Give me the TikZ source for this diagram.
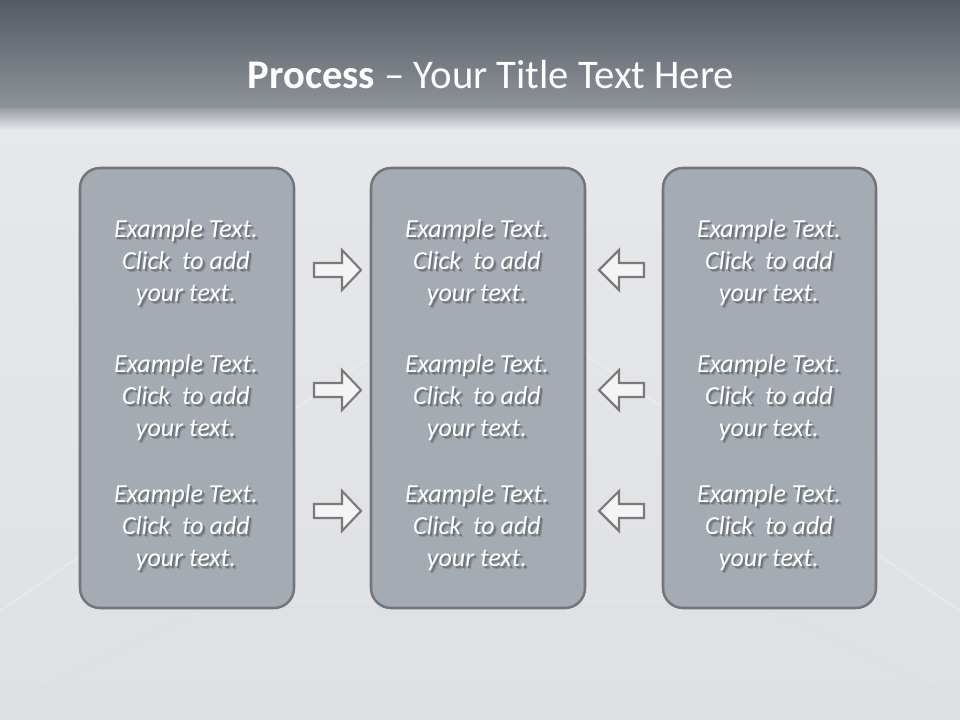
\documentclass[tikz,border=0pt]{standalone}
\usepackage{fontspec}
\setmainfont{Carlito}
\definecolor{hdtop}{HTML}{555B63}
\definecolor{hdbot}{HTML}{8E949A}
\definecolor{bgtop}{HTML}{E6E8EB}
\definecolor{bgbot}{HTML}{DFE0E3}
\definecolor{boxfill}{HTML}{A5ABB2}
\definecolor{boxline}{HTML}{73777C}
\definecolor{arrline}{HTML}{7A7A7A}
\definecolor{arrfill}{HTML}{F4F4F4}
\definecolor{txtshadow}{HTML}{70757C}
\definecolor{txtshadowb}{HTML}{8D9299}
\tikzset{
  panel/.style={draw=boxline, line width=1.9pt, fill=boxfill, rounded corners=15pt},
  arrowshape/.style={draw=arrline, line width=1.6pt, fill=arrfill, line join=miter},
  bodytext/.style={text=white, align=center, font=\itshape\fontsize{19.5}{24}\selectfont, inner sep=0pt},
  faint/.style={draw=white, line width=1.2pt, opacity=0.25}
}
\newcommand{\shl}[1]{\makebox[0pt][l]{\hspace{2.2pt}\raisebox{-2.8pt}{\textcolor{txtshadowb}{#1}}}\makebox[0pt][l]{\hspace{1.4pt}\raisebox{-2pt}{\textcolor{txtshadow}{#1}}}#1}
\newcommand{\ptext}{\shl{Example Text.}\\\shl{Click\ \ to add}\\\shl{your text.}}
\begin{document}
\begin{tikzpicture}[x=0.75pt,y=-0.75pt]
\useasboundingbox (0,0) rectangle (960,720);
% background
\shade[top color=bgtop, bottom color=bgbot] (0,110) rectangle (960,720);
\shade[top color=hdtop, bottom color=hdbot] (0,0) rectangle (960,110);
\shade[top color=hdbot!85!bgtop, bottom color=bgtop] (0,109) rectangle (960,130);
% faint room lines
\draw[faint] (0,611) -- (480,282) -- (960,611);
\draw[draw=gray!30, line width=0.8pt, opacity=0.35] (0,710) -- (202,607) -- (765,607) -- (960,700);
% title
\node (title) at (491,75) {\color{white}\fontsize{30.5}{36}\selectfont\textbf{Process} – Your Title Text Here};
% panels
\draw[panel] (80,168) rectangle (294,608);
\draw[panel] (371,168) rectangle (585,608);
\draw[panel] (663,168) rectangle (876,608);
% texts
\foreach \c/\n in {186/a,477/b,769/c}{
  \foreach \y/\m in {264/1,399/2,529/3}{
    \node[bodytext] (t\n\m) at (\c,\y) {\ptext};
  }
}
% arrows
\foreach \y/\m in {270/1,390/2,511/3}{
  \draw[arrowshape] (314,\y-7) -- (342,\y-7) -- (342,\y-20) -- (361,\y) -- (342,\y+20) -- (342,\y+7) -- (314,\y+7) -- cycle;
  \draw[arrowshape] (644,\y-7) -- (619,\y-7) -- (619,\y-20) -- (599,\y) -- (619,\y+20) -- (619,\y+7) -- (644,\y+7) -- cycle;
}
\end{tikzpicture}
\end{document}
